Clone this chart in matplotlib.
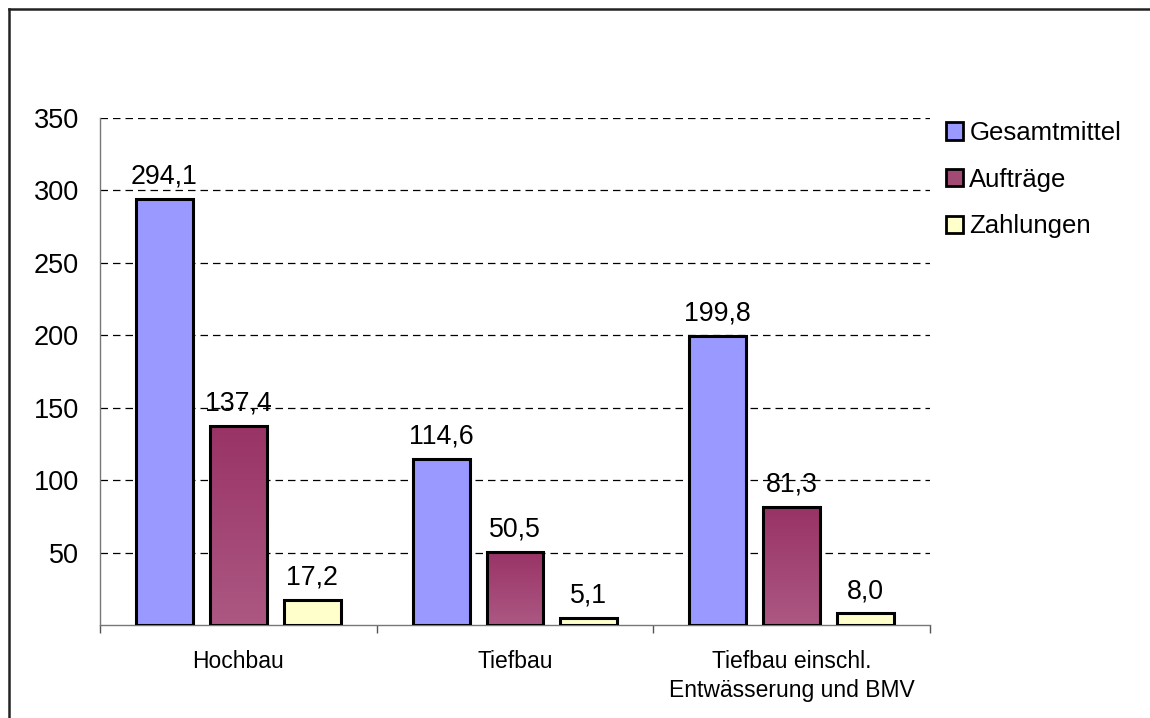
import matplotlib
matplotlib.use("Agg")
import matplotlib.pyplot as plt
import numpy as np
from matplotlib.patches import Patch
from matplotlib.lines import Line2D
from matplotlib.colors import LinearSegmentedColormap

categories = ["Hochbau", "Tiefbau", "Tiefbau einschl.\nEntwässerung und BMV"]
series_names = ["Gesamtmittel", "Aufträge", "Zahlungen"]
gesamtmittel = [294.1, 114.6, 199.8]
auftraege = [137.4, 50.5, 81.3]
zahlungen = [17.2, 5.1, 8.0]
yticks = [50, 100, 150, 200, 250, 300, 350]

plt.rcParams['font.family'] = ['Liberation Sans', 'DejaVu Sans']

fig = plt.figure(figsize=(11.5, 7.18), dpi=100)
ax = fig.add_axes([100/1150, 1-625/718, 830/1150, 507/718])

x = np.arange(len(categories))
width = 0.206
offsets = [-0.267, 0.0, 0.267]
series = [gesamtmittel, auftraege, zahlungen]
colors = ["#9999FF", "#993366", "#FFFFCC"]

purple_cmap = LinearSegmentedColormap.from_list("p", ["#AC5883", "#993366"])

for vals, off, col, name in zip(series, offsets, colors, series_names):
    bars = ax.bar(x + off, vals, width, color=col, edgecolor="black", linewidth=2.2, zorder=3)
    if name == "Aufträge":
        for b in bars:
            b.set_facecolor("none")
            x0, y0 = b.get_x(), b.get_y()
            w, h = b.get_width(), b.get_height()
            grad = np.linspace(0, 1, 256).reshape(-1, 1)
            im = ax.imshow(grad, extent=[x0, x0 + w, y0, y0 + h], origin="lower",
                           cmap=purple_cmap, aspect="auto", zorder=2.5)
            im.set_clip_path(b)
    for xi, v in zip(x + off, vals):
        ax.annotate(f"{v:.1f}".replace(".", ","), (xi, v), xytext=(0, 11),
                    textcoords="offset points", ha="center", va="baseline", fontsize=19.3)

ax.set_xlim(-0.5, 2.5)
ax.set_ylim(0, 350)
ax.set_yticks(yticks)
ax.set_yticklabels([str(t) for t in yticks], fontsize=19.5)
ax.tick_params(axis="y", length=0, pad=15)
ax.set_xticks(x)
ax.set_xticklabels(categories, fontsize=16.5, linespacing=1.33)
ax.tick_params(axis="x", length=0, pad=18)
# boundary tick marks
ax.set_xticks([-0.5, 0.5, 1.5, 2.5], minor=True)
ax.tick_params(axis="x", which="minor", length=6, width=1, color="#555555", direction="out")

ax.grid(axis="y", linestyle=(0, (6, 4)), color="black", linewidth=0.9, zorder=0)
for s in ["top", "right"]:
    ax.spines[s].set_visible(False)
ax.spines["left"].set_color("#777777")
ax.spines["bottom"].set_color("#777777")
ax.spines["left"].set_linewidth(1)
ax.spines["bottom"].set_linewidth(1)

handles = [Patch(facecolor=c, edgecolor="black", linewidth=2) for c in ["#9999FF", "#A14A74", "#FFFFCC"]]
fig.legend(handles, series_names, loc="upper left",
           bbox_to_anchor=(946/1150, 1-121/718), frameon=False, fontsize=18.5,
           handlelength=0.66, handleheight=0.66, handletextpad=0.25, labelspacing=0.88,
           borderaxespad=0, borderpad=0)

# outer border (left and top)
fig.add_artist(Line2D([8.5/1150, 8.5/1150], [0, 1-8.5/718], color="#222222", linewidth=1.8, transform=fig.transFigure))
fig.add_artist(Line2D([8.5/1150, 1], [1-8.5/718, 1-8.5/718], color="#222222", linewidth=1.8, transform=fig.transFigure))

fig.savefig("out.png", dpi=100)
